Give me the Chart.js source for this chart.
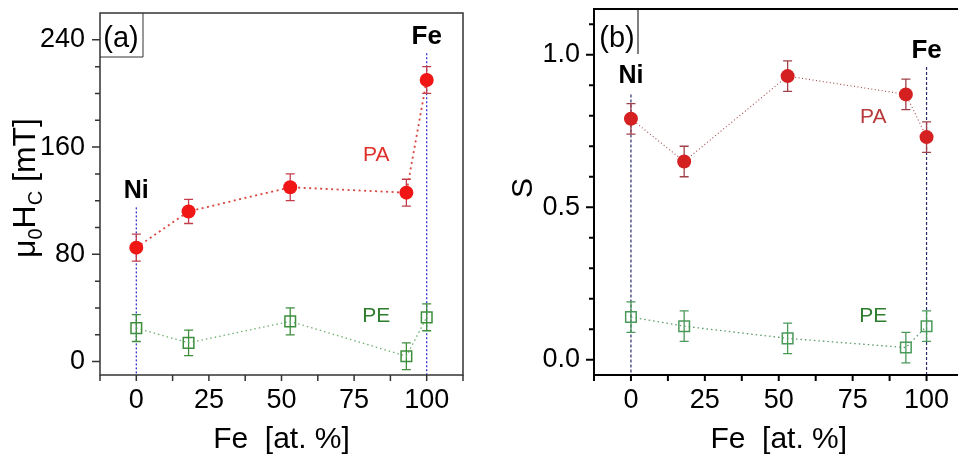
<!DOCTYPE html>
<html>
<head>
<meta charset="utf-8">
<script src="https://cdn.jsdelivr.net/npm/chart.js@4"></script>
<style>
  html, body { margin: 0; padding: 0; background: #fff; overflow: hidden; width: 958px; height: 458px; }
  canvas { position: absolute; top: 0; }
  #chartA { left: 0; }
  #chartB { left: 480px; }
</style>
</head>
<body>
<canvas id="chartA" width="479" height="458"></canvas>
<canvas id="chartB" width="500" height="458"></canvas>
<script>
const FONT = "'Liberation Sans', Arial, sans-serif";

// composition, at.% Fe
const feContent = [0, 18, 53, 93, 100];

// coercive field, mT
const hcPA = [85, 112, 130, 126, 210];
const hcPAErr = [10, 9, 10, 10, 10];
const hcPE = [25, 14, 30, 4, 33];
const hcPEErr = [10, 9.5, 10, 10, 10];

// squareness
const sPA = [0.79, 0.65, 0.93, 0.87, 0.73];
const sPAErr = [0.05, 0.05, 0.05, 0.05, 0.05];
const sPE = [0.14, 0.11, 0.07, 0.04, 0.11];
const sPEErr = [0.05, 0.05, 0.05, 0.05, 0.05];

const xTicks = [0, 25, 50, 75, 100];
const xMinor = [-12.5, 12.5, 37.5, 62.5, 87.5, 112.5];
const hcTicks = [0, 80, 160, 240];
const hcMinor = [20, 40, 60, 100, 120, 140, 180, 200, 220];
const sTicks = [0, 0.5, 1.0];
const sMinor = [0.1, 0.2, 0.3, 0.4, 0.6, 0.7, 0.8, 0.9, 1.1];

const toPoints = (xs, ys) => xs.map((x, i) => ({ x, y: ys[i] }));

// keep the plot box where the layout padding puts it
const noEdgePadding = s => {
  s.paddingTop = 0; s.paddingBottom = 0; s.paddingLeft = 0; s.paddingRight = 0;
};

const figurePlugin = {
  id: 'figure',
  beforeDatasetsDraw(chart, args, opts) {
    const { ctx, chartArea } = chart;
    const xs = chart.scales.x, ys = chart.scales.y;
    ctx.save();
    // guides at the pure elements
    ctx.strokeStyle = opts.guideColor;
    ctx.lineWidth = 1.2;
    ctx.setLineDash(opts.guideDash);
    opts.guides.forEach(g => {
      const px = xs.getPixelForValue(g.x);
      ctx.beginPath();
      ctx.moveTo(px, ys.getPixelForValue(g.from));
      ctx.lineTo(px, chartArea.bottom);
      ctx.stroke();
    });
    ctx.setLineDash([]);
    // error bars
    chart.data.datasets.forEach(ds => {
      ctx.strokeStyle = ds.errColor;
      ctx.lineWidth = 1.3;
      ds.data.forEach((p, i) => {
        const px = xs.getPixelForValue(p.x);
        const top = ys.getPixelForValue(p.y + ds.err[i]);
        const bot = ys.getPixelForValue(p.y - ds.err[i]);
        ctx.beginPath();
        ctx.moveTo(px, top); ctx.lineTo(px, bot);
        ctx.moveTo(px - 4.5, top); ctx.lineTo(px + 4.5, top);
        ctx.moveTo(px - 4.5, bot); ctx.lineTo(px + 4.5, bot);
        ctx.stroke();
      });
    });
    ctx.restore();
  },
  afterDraw(chart, args, opts) {
    const { ctx, chartArea: a } = chart;
    const xs = chart.scales.x, ys = chart.scales.y;
    ctx.save();
    ctx.strokeStyle = opts.frameColor;
    ctx.lineWidth = opts.frameWidth;
    ctx.strokeRect(a.left, a.top, a.right - a.left, a.bottom - a.top);

    // tick marks, outside
    ctx.beginPath();
    xTicks.concat(xMinor).forEach(v => {
      const px = xs.getPixelForValue(v);
      ctx.moveTo(px, a.bottom); ctx.lineTo(px, a.bottom + 6);
    });
    opts.yMajor.forEach(v => {
      const py = ys.getPixelForValue(v);
      ctx.moveTo(a.left, py); ctx.lineTo(a.left - 8, py);
    });
    opts.yMinor.forEach(v => {
      const py = ys.getPixelForValue(v);
      ctx.moveTo(a.left, py); ctx.lineTo(a.left - 5, py);
    });
    ctx.stroke();

    // panel tag
    ctx.lineWidth = 1;
    ctx.beginPath();
    ctx.moveTo(a.left + opts.tag.w, a.top);
    ctx.lineTo(a.left + opts.tag.w, a.top + opts.tag.h);
    if (opts.tag.closed) ctx.lineTo(a.left, a.top + opts.tag.h);
    ctx.stroke();
    ctx.fillStyle = '#000';
    ctx.font = `29px ${FONT}`;
    ctx.textAlign = 'center';
    ctx.textBaseline = 'middle';
    ctx.fillText(opts.tag.text, a.left + opts.tag.cx, a.top + opts.tag.cy);

    // annotations
    opts.notes.forEach(n => {
      ctx.font = `${n.bold ? 'bold ' : ''}${n.size}px ${FONT}`;
      ctx.fillStyle = n.color;
      ctx.fillText(n.text, xs.getPixelForValue(n.x), ys.getPixelForValue(n.y));
    });

    // rotated y title with subscripts
    const parts = opts.yTitle.parts;
    let total = 0;
    parts.forEach(p => {
      ctx.font = `${p.sub ? opts.yTitle.subSize : opts.yTitle.size}px ${FONT}`;
      p.w = ctx.measureText(p.t).width;
      total += p.w;
    });
    ctx.translate(opts.yTitle.x, opts.yTitle.cy + total / 2);
    ctx.rotate(-Math.PI / 2);
    ctx.textAlign = 'left';
    ctx.textBaseline = 'alphabetic';
    ctx.fillStyle = '#000';
    let cx = 0;
    parts.forEach(p => {
      ctx.font = `${p.sub ? opts.yTitle.subSize : opts.yTitle.size}px ${FONT}`;
      ctx.fillText(p.t, cx, p.sub ? 7 : 0);
      cx += p.w;
    });
    ctx.restore();
  }
};

function makeChart(id, cfg) {
  return new Chart(document.getElementById(id), {
    type: 'scatter',
    data: {
      datasets: [
        {
          label: 'PA',
          data: toPoints(feContent, cfg.pa),
          err: cfg.paErr,
          errColor: cfg.paErrColor,
          showLine: true,
          tension: 0,
          borderColor: cfg.paLine,
          borderWidth: cfg.paLineWidth,
          borderDash: cfg.paDash,
          pointStyle: 'circle',
          pointRadius: 7,
          pointBorderWidth: 0,
          pointBackgroundColor: cfg.paColor,
          pointBorderColor: cfg.paColor
        },
        {
          label: 'PE',
          data: toPoints(feContent, cfg.pe),
          err: cfg.peErr,
          errColor: cfg.peErrColor,
          showLine: true,
          tension: 0,
          borderColor: cfg.peLine,
          borderWidth: 1.3,
          borderDash: [1.5, 3],
          pointStyle: 'rect',
          pointRadius: 7.5,
          pointBorderWidth: 1.5,
          pointBackgroundColor: 'rgba(0,0,0,0)',
          pointBorderColor: cfg.peColor
        }
      ]
    },
    options: {
      responsive: false,
      animation: false,
      events: [],
      layout: { padding: { top: cfg.padTop, right: cfg.padRight, left: 0, bottom: 0 } },
      plugins: {
        legend: { display: false },
        tooltip: { enabled: false },
        figure: cfg.figure
      },
      scales: {
        x: {
          type: 'linear',
          min: -12.5,
          max: 112.5,
          afterBuildTicks: s => { s.ticks = xTicks.map(v => ({ value: v })); },
          afterFit: s => { s.height = 83; noEdgePadding(s); },
          grid: { display: false, drawTicks: false },
          border: { display: false },
          ticks: { font: { family: FONT, size: 27 }, color: '#000', padding: 9, maxRotation: 0, autoSkip: false },
          title: { display: true, text: 'Fe  [at. %]', font: { family: FONT, size: 30 }, color: '#000', padding: 0 }
        },
        y: {
          type: 'linear',
          min: cfg.yMin,
          max: cfg.yMax,
          afterBuildTicks: s => { s.ticks = cfg.yTicks.map(v => ({ value: v })); },
          afterFit: s => { s.width = cfg.yWidth; noEdgePadding(s); },
          grid: { display: false, drawTicks: false },
          border: { display: false },
          ticks: { font: { family: FONT, size: 27 }, color: '#000', padding: cfg.yPad, callback: cfg.yFmt }
        }
      }
    },
    plugins: [figurePlugin]
  });
}

makeChart('chartA', {
  pa: hcPA, paErr: hcPAErr, pe: hcPE, peErr: hcPEErr,
  paColor: '#f01616', paLine: '#d9443f', paLineWidth: 1.8, paDash: [2, 3.5], paErrColor: '#c43c4c',
  peColor: '#3d8f3d', peLine: '#6fb06f', peErrColor: '#3f8f3f',
  yMin: -10, yMax: 260, yTicks: hcTicks, yWidth: 100, yPad: 15, yFmt: v => String(v),
  padTop: 13, padRight: 16,
  figure: {
    frameColor: '#333', frameWidth: 1.5,
    yMajor: hcTicks, yMinor: hcMinor,
    guideColor: '#2424c8', guideDash: [2, 2],
    guides: [{ x: 0, from: 115 }, { x: 100, from: 230 }],
    tag: { text: '(a)', w: 43, h: 44, cx: 21, cy: 26, closed: true },
    notes: [
      { text: 'Ni', x: 0, y: 127, size: 25, bold: true, color: '#000' },
      { text: 'Fe', x: 100, y: 242, size: 26, bold: true, color: '#000' },
      { text: 'PA', x: 82.6, y: 154, size: 21, color: '#e0302a' },
      { text: 'PE', x: 82.6, y: 34, size: 21, color: '#2e7d2e' }
    ],
    yTitle: {
      x: 35, cy: 188, size: 32, subSize: 20,
      parts: [{ t: 'μ' }, { t: '0', sub: true }, { t: 'H' }, { t: 'C', sub: true }, { t: ' [mT]' }]
    }
  }
});

makeChart('chartB', {
  pa: sPA, paErr: sPAErr, pe: sPE, peErr: sPEErr,
  paColor: '#d42020', paLine: '#a04848', paLineWidth: 1.1, paDash: [1, 2.5], paErrColor: '#a0404a',
  peColor: '#4a9a5a', peLine: '#5a9a6a', peErrColor: '#4a9a5a',
  yMin: -0.05, yMax: 1.15, yTicks: sTicks, yWidth: 114, yPad: 14, yFmt: v => v.toFixed(1),
  padTop: 5, padRight: 16.5,
  figure: {
    frameColor: '#000', frameWidth: 2,
    yMajor: sTicks, yMinor: sMinor,
    guideColor: '#2a2a6a', guideDash: [3, 2],
    guides: [{ x: 0, from: 0.87 }, { x: 100, from: 0.96 }],
    tag: { text: '(b)', w: 44, h: 45, cx: 23, cy: 29.5, closed: false },
    notes: [
      { text: 'Ni', x: 0, y: 0.93, size: 25, bold: true, color: '#000' },
      { text: 'Fe', x: 100, y: 1.012, size: 26, bold: true, color: '#000' },
      { text: 'PA', x: 82, y: 0.795, size: 21, color: '#b83a3a' },
      { text: 'PE', x: 82, y: 0.143, size: 21, color: '#2e7d2e' }
    ],
    yTitle: {
      x: 52, cy: 188, size: 30, subSize: 20,
      parts: [{ t: 'S' }]
    }
  }
});
</script>
</body>
</html>
